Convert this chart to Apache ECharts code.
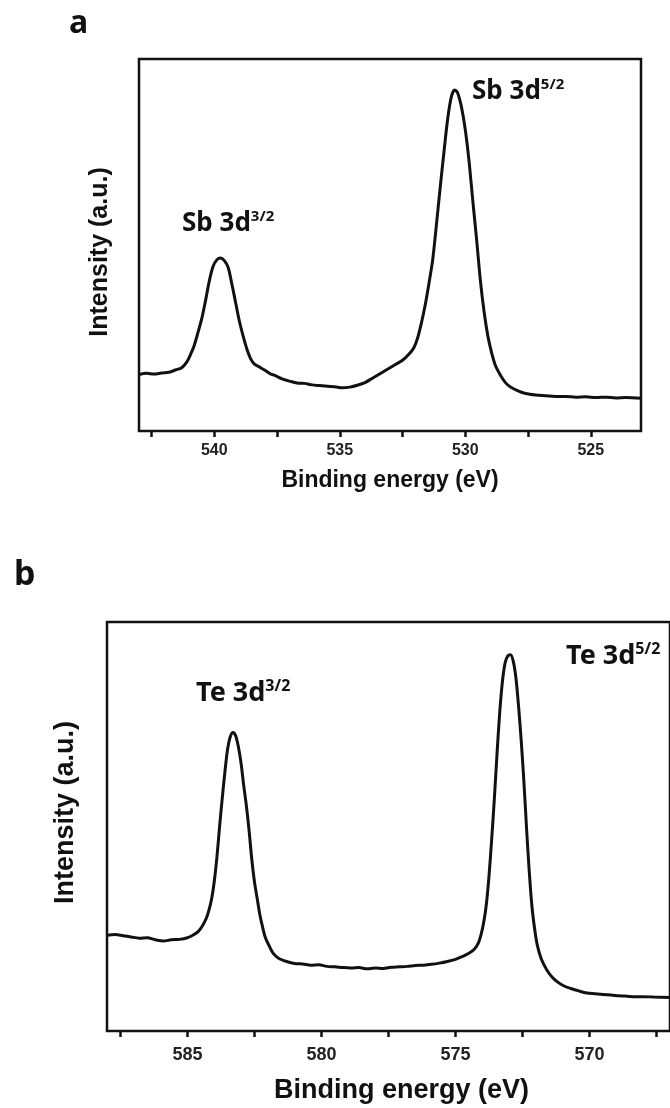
<!DOCTYPE html>
<html>
<head>
<meta charset="utf-8">
<script src="https://cdn.jsdelivr.net/npm/echarts@6/dist/echarts.min.js"></script>
<style>
  html, body { margin: 0; padding: 0; background: #fff; }
  #chart { width: 670px; height: 1108px; }
</style>
</head>
<body>
<div id="chart"></div>
<script>
// panel a: Sb 3d
const energyA = [
  543.0, 542.7, 542.4, 542.1, 541.8, 541.55, 541.3, 541.1, 540.95, 540.8,
  540.65, 540.5, 540.35, 540.2, 540.05, 539.9, 539.75, 539.6, 539.45, 539.3,
  539.15, 539.0, 538.85, 538.7, 538.55, 538.4, 538.2, 538.0, 537.8, 537.55,
  537.3, 537.0, 536.7, 536.4, 536.1, 535.8, 535.5, 535.2, 534.9, 534.6,
  534.3, 534.0, 533.7, 533.4, 533.1, 532.8, 532.5, 532.25, 532.05, 531.9,
  531.75, 531.6, 531.45, 531.3, 531.15, 531.0, 530.85, 530.7, 530.55, 530.42,
  530.3, 530.15, 530.0, 529.85, 529.7, 529.55, 529.4, 529.25, 529.1, 528.95,
  528.8, 528.6, 528.4, 528.2, 527.9, 527.6, 527.2, 526.8, 526.4, 526.0,
  525.6, 525.2, 524.8, 524.4, 524.0, 523.6, 523.0
];
const intensityA = [
  15.2, 15.5, 15.3, 15.6, 15.8, 16.4, 17.0, 18.5, 20.5, 23.0,
  26.5, 30.2, 35.0, 40.3, 44.2, 46.0, 46.5, 45.8, 44.0, 39.5,
  34.5, 29.5, 25.5, 22.0, 19.4, 18.0, 17.2, 16.4, 15.5, 14.8,
  14.0, 13.4, 12.9, 12.8, 12.4, 12.2, 12.0, 11.9, 11.6, 11.8,
  12.3, 13.0, 14.2, 15.4, 16.6, 17.8, 19.0, 20.6, 22.4, 25.0,
  29.0, 33.8, 39.6, 46.0, 55.5, 65.5, 75.0, 84.0, 90.0, 91.7,
  90.8, 87.0, 81.0, 72.5, 61.8, 51.5, 40.5, 32.0, 25.5, 21.0,
  17.6, 15.0, 13.0, 11.8, 10.8, 10.1, 9.7, 9.5, 9.3, 9.3,
  9.1, 9.2, 9.0, 9.1, 8.9, 9.0, 8.8
];
const ticksA = [525, 527.5, 530, 532.5, 535, 537.5, 540, 542.5];
const labelsA = [525, 530, 535, 540];

// panel b: Te 3d
const energyB = [
  588.0, 587.7, 587.4, 587.1, 586.8, 586.5, 586.2, 585.9, 585.6, 585.3,
  585.0, 584.8, 584.6, 584.45, 584.3, 584.2, 584.1, 584.0, 583.9, 583.8,
  583.7, 583.6, 583.5, 583.4, 583.3, 583.2, 583.1, 583.0, 582.9, 582.8,
  582.7, 582.6, 582.5, 582.4, 582.3, 582.2, 582.1, 581.95, 581.8, 581.6,
  581.3, 581.0, 580.7, 580.4, 580.1, 579.8, 579.5, 579.2, 578.9, 578.6,
  578.3, 578.0, 577.7, 577.4, 577.1, 576.8, 576.5, 576.2, 575.9, 575.6,
  575.3, 575.0, 574.75, 574.5, 574.3, 574.15, 574.05, 573.95, 573.85, 573.75,
  573.65, 573.55, 573.45, 573.35, 573.25, 573.15, 573.05, 572.95, 572.85, 572.75,
  572.65, 572.55, 572.45, 572.35, 572.25, 572.15, 572.05, 571.95, 571.8, 571.6,
  571.4, 571.2, 570.95, 570.7, 570.4, 570.1, 569.8, 569.5, 569.2, 568.9,
  568.6, 568.3, 568.0, 567.6, 567.0
];
const intensityB = [
  23.4, 23.6, 23.3, 23.0, 22.7, 22.8, 22.3, 22.0, 22.3, 22.4,
  22.8, 23.4, 24.3, 25.6, 27.5, 29.5, 32.2, 36.5, 42.5, 50.0,
  57.0, 63.5, 69.0, 72.0, 73.0, 72.2, 69.5, 65.5, 60.0, 55.0,
  49.0, 42.0, 36.5, 32.5, 28.5, 25.5, 23.0, 20.8, 19.0, 17.8,
  17.0, 16.5, 16.4, 16.1, 16.2, 15.8, 15.7, 15.5, 15.4, 15.5,
  15.2, 15.4, 15.3, 15.6, 15.7, 15.8, 16.0, 16.1, 16.3, 16.6,
  17.0, 17.5, 18.2, 19.0, 20.0, 21.5, 23.5, 26.5, 31.0, 38.0,
  47.0, 57.0, 68.0, 78.0, 85.5, 90.0, 91.7, 92.0, 90.5, 86.5,
  79.5, 71.0, 61.0, 49.5, 39.0, 30.5, 25.0, 21.0, 17.6, 15.0,
  13.2, 12.0, 11.0, 10.4, 9.8, 9.3, 9.1, 8.9, 8.8, 8.6,
  8.5, 8.4, 8.4, 8.3, 8.2
];
const ticksB = [567.5, 570, 572.5, 575, 577.5, 580, 582.5, 585, 587.5];
const labelsB = [570, 575, 580, 585];

const chart = echarts.init(document.getElementById('chart'), null, { renderer: 'canvas' });

const axisFont = 'Liberation Sans, Arial, sans-serif';
const peakFont = 'Noto Sans, sans-serif';

function xAxisFor(gridIndex, min, max, ticks, labels, labelSize, nameSize, nameGap, labelMargin, namePad) {
  return {
    type: 'value',
    gridIndex: gridIndex,
    inverse: true,
    min: min,
    max: max,
    name: 'Binding energy (eV)',
    nameLocation: 'middle',
    nameGap: nameGap,
    nameTextStyle: {
      fontFamily: axisFont, fontWeight: 'bold', fontSize: nameSize, color: '#111',
      padding: namePad
    },
    axisLine: { show: false },
    axisTick: {
      show: true, inside: false, length: 6, customValues: ticks,
      lineStyle: { color: '#111', width: 2.5 }
    },
    axisLabel: {
      show: true, customValues: labels, margin: labelMargin,
      fontFamily: axisFont, fontWeight: 'bold', fontSize: labelSize, color: '#222'
    },
    splitLine: { show: false }
  };
}

function yAxisFor(gridIndex, nameSize, nameGap, namePad) {
  return {
    type: 'value',
    gridIndex: gridIndex,
    min: 0,
    max: 100,
    name: 'Intensity (a.u.)',
    nameLocation: 'middle',
    nameGap: nameGap,
    nameTextStyle: {
      fontFamily: axisFont, fontWeight: 'bold', fontSize: nameSize, color: '#111',
      padding: namePad
    },
    axisLine: { show: false },
    axisTick: { show: false },
    axisLabel: { show: false },
    splitLine: { show: false }
  };
}

function peakLabel(x, y, main, sup, size, supSize) {
  return {
    type: 'text',
    x: x,
    y: y,
    style: {
      text: '{m|' + main + '}{s|' + sup + '}',
      rich: {
        m: { fontFamily: peakFont, fontWeight: 'bold', fontSize: size, lineHeight: size + 4, fill: '#111' },
        s: { fontFamily: peakFont, fontWeight: 'bold', fontSize: supSize, lineHeight: supSize + 2,
             verticalAlign: 'top', fill: '#111' }
      },
      verticalAlign: 'top'
    }
  };
}

const option = {
  animation: false,
  backgroundColor: '#fff',
  grid: [
    { left: 139, top: 59, width: 502, height: 372, show: true, borderColor: '#111', borderWidth: 2.5, backgroundColor: 'transparent' },
    { left: 107, top: 622, right: -35, height: 409, show: true, borderColor: '#111', borderWidth: 2.5, backgroundColor: 'transparent' }
  ],
  xAxis: [
    xAxisFor(0, 523, 543, ticksA, labelsA, 16, 23, 38, 12, [0, 0, 0, 0]),
    xAxisFor(1, 567, 588, ticksB, labelsB, 18, 27, 46, 15, [0, 0, 0, 26])
  ],
  yAxis: [
    yAxisFor(0, 25, 26, [0, 14, 0, 0]),
    yAxisFor(1, 27, 28, [0, 0, 0, 28])
  ],
  series: [
    {
      type: 'line', xAxisIndex: 0, yAxisIndex: 0,
      data: energyA.map((e, i) => [e, intensityA[i]]),
      showSymbol: false, smooth: 0.3,
      lineStyle: { color: '#111', width: 3 }
    },
    {
      type: 'line', xAxisIndex: 1, yAxisIndex: 1,
      data: energyB.map((e, i) => [e, intensityB[i]]),
      showSymbol: false, smooth: 0.3,
      lineStyle: { color: '#111', width: 3 }
    }
  ],
  graphic: [
    { type: 'text', x: 69, y: 8, style: { text: 'a', fontFamily: peakFont, fontWeight: 'bold', fontSize: 32, fill: '#111' } },
    { type: 'text', x: 14, y: 558, style: { text: 'b', fontFamily: peakFont, fontWeight: 'bold', fontSize: 34, fill: '#111' } },
    peakLabel(182, 209, 'Sb 3d', '3/2', 26, 15),
    peakLabel(472, 77, 'Sb 3d', '5/2', 26, 15),
    peakLabel(196, 678, 'Te 3d', '3/2', 27, 16),
    peakLabel(566, 641, 'Te 3d', '5/2', 27, 16)
  ]
};

chart.setOption(option);
</script>
</body>
</html>
